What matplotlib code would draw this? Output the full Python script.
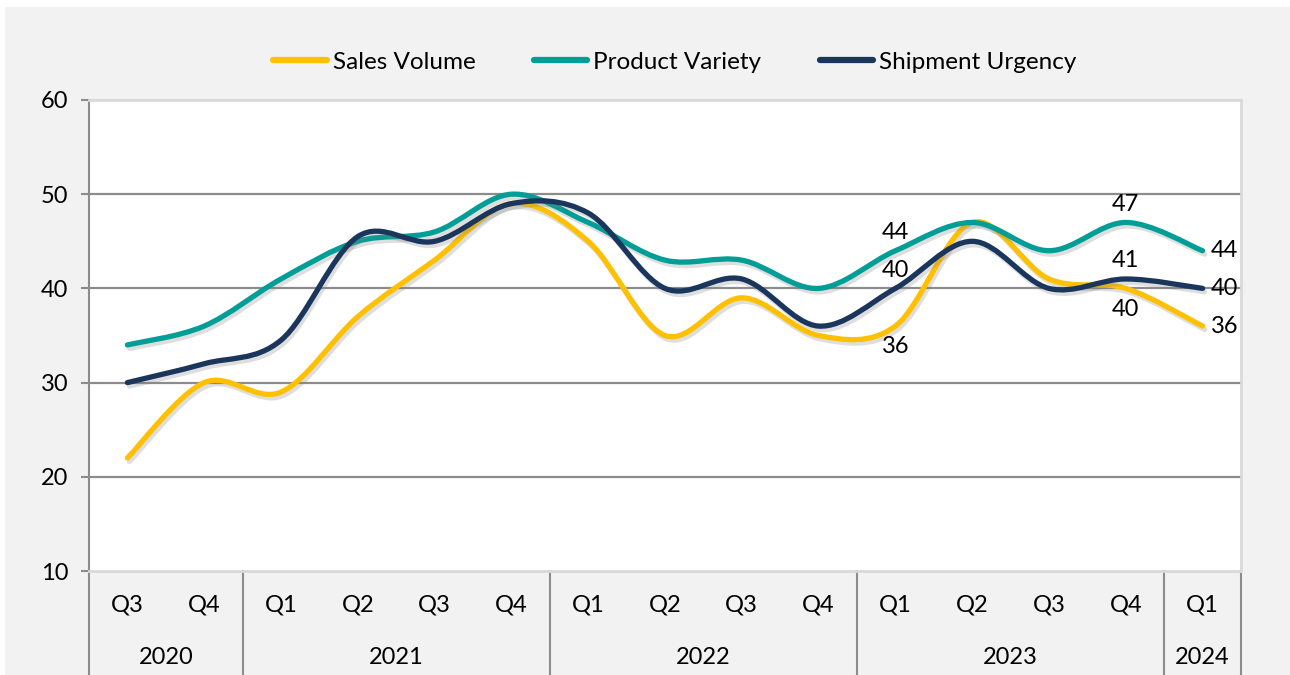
import numpy as np
import matplotlib.pyplot as plt
import matplotlib.patheffects as pe
from matplotlib.path import Path
from matplotlib.patches import PathPatch, Rectangle
from matplotlib.lines import Line2D

plt.rcParams['font.family'] = ['Lato', 'DejaVu Sans']

# data
quarters = ['Q3', 'Q4', 'Q1', 'Q2', 'Q3', 'Q4', 'Q1', 'Q2', 'Q3', 'Q4',
            'Q1', 'Q2', 'Q3', 'Q4', 'Q1']
years = ['2020', '2021', '2022', '2023', '2024']
year_counts = [2, 4, 4, 4, 1]

sales_volume = [22, 30, 29, 37, 43, 49, 45, 35, 39, 35, 36, 47, 41, 40, 36]
product_variety = [34, 36, 41, 45, 46, 50, 47, 43, 43, 40, 44, 47, 44, 47, 44]
shipment_urgency = [30, 32, 34.5, 45.5, 45, 49, 48, 40, 41, 36, 40, 45, 40, 41, 40]

series_names = ['Sales Volume', 'Product Variety', 'Shipment Urgency']
series_values = [sales_volume, product_variety, shipment_urgency]
colors = ['#FFC000', '#009E97', '#1B365D']

# which points get a data label, and where
labels_at = [
    [(10, 'below'), (13, 'below'), (14, 'right')],
    [(10, 'above'), (13, 'above'), (14, 'right')],
    [(10, 'above'), (13, 'above'), (14, 'right')],
]

FS = 17


def smooth_path(x, y):
    # excel-style smoothed line: cubic bezier through every point
    p = np.column_stack([x, y]).astype(float)
    n = len(p)
    verts = [p[0]]
    codes = [Path.MOVETO]
    for i in range(n - 1):
        p0 = p[i - 1] if i > 0 else p[i]
        p1, p2 = p[i], p[i + 1]
        p3 = p[i + 2] if i + 2 < n else p[i + 1]
        c1 = p1 + (p2 - p0) / 6.0
        c2 = p2 - (p3 - p1) / 6.0
        verts += [c1, c2, p2]
        codes += [Path.CURVE4] * 3
    return Path(verts, codes)


fig = plt.figure(figsize=(12.9, 6.75), dpi=100)
fig.patch.set_facecolor('white')
fig.patches.append(Rectangle((5 / 1290, 0), 1, 1 - 7 / 675, transform=fig.transFigure,
                             facecolor='#F2F2F2', edgecolor='none', zorder=-10))

ax = fig.add_axes([89 / 1290, 104 / 675, 1152 / 1290, 471 / 675])
ax.set_facecolor('white')
ax.set_xlim(-0.5, len(quarters) - 0.5)
ax.set_ylim(10, 60)
ax.set_yticks(range(10, 61, 10))
ax.set_xticks([])
ax.tick_params(axis='y', length=6, width=1.5, color='#8C8C8C', labelsize=FS, pad=9,
               labelcolor='black')

for s in ['top', 'right', 'bottom']:
    ax.spines[s].set_color('#D9D9D9')
    ax.spines[s].set_linewidth(2)
ax.spines['left'].set_color('#8C8C8C')
ax.spines['left'].set_linewidth(1.5)

for v in [20, 30, 40, 50]:
    ax.axhline(v, color='#8C8C8C', lw=1.6, zorder=1)

x = np.arange(len(quarters))
shadow = [pe.SimpleLineShadow(offset=(1.5, -2.5), shadow_color='#7F7F7F', alpha=0.25, rho=1),
          pe.Normal()]

for vals, col in zip(series_values, colors):
    patch = PathPatch(smooth_path(x, vals), facecolor='none', edgecolor=col, lw=3.8,
                      capstyle='round', joinstyle='round', zorder=3)
    patch.set_path_effects(shadow)
    ax.add_patch(patch)

offsets = {'above': ((0, 13), 'center', 'center'),
           'below': ((0, -15), 'center', 'center'),
           'right': ((6, 0), 'left', 'center')}
for vals, spots in zip(series_values, labels_at):
    for i, pos in spots:
        off, ha, va = offsets[pos]
        ax.annotate(f'{vals[i]:g}', (x[i], vals[i]), xytext=off, textcoords='offset points',
                    ha=ha, va=va, fontsize=FS, zorder=5)

# two-level category axis
xt = ax.get_xaxis_transform()
for i, q in enumerate(quarters):
    ax.text(i, -0.072, q, transform=xt, ha='center', va='center', fontsize=FS)

bottom = -104 / 471
start = 0
edges = [-0.5]
for yr, cnt in zip(years, year_counts):
    ax.text(start + (cnt - 1) / 2, -0.183, yr, transform=xt, ha='center', va='center',
            fontsize=FS)
    start += cnt
    edges.append(start - 0.5)
for e in edges:
    ax.plot([e, e], [0, bottom], transform=xt, color='#8C8C8C', lw=1.5, clip_on=False)

handles = [Line2D([], [], color=c, lw=4.5, solid_capstyle='round') for c in colors]
fig.legend(handles, series_names, loc='center', bbox_to_anchor=(675 / 1290, 1 - 62 / 675),
           ncol=3, frameon=False, fontsize=17.5, handlelength=2.2, handletextpad=0.25,
           columnspacing=2.4)

fig.savefig('out.png', dpi=100)
